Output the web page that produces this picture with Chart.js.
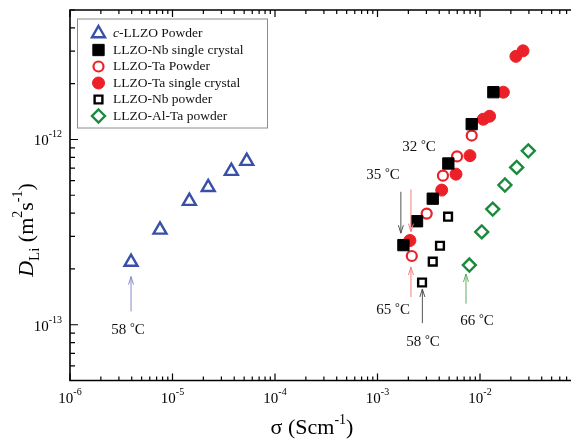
<!DOCTYPE html>
<html>
<head>
<meta charset="utf-8">
<script src="https://cdn.jsdelivr.net/npm/chart.js@4.4.0/dist/chart.umd.min.js"></script>
<style>
  html, body { margin: 0; padding: 0; background: #fff; overflow: hidden; }
  #wrap { width: 600px; height: 439px; }
</style>
</head>
<body>
<div id="wrap"><canvas id="dliChart" width="600" height="439"></canvas></div>
<script>
// sigma in S/cm, D_Li in m^2/s
const cPowderSigma = [3.94e-6, 7.55e-6, 1.46e-5, 2.23e-5, 3.75e-5, 5.30e-5];
const cPowderD     = [2.18e-13, 3.25e-13, 4.65e-13, 5.52e-13, 6.75e-13, 7.64e-13];

const nbCrystalSigma = [1.79e-3, 2.43e-3, 3.46e-3, 4.91e-3, 8.30e-3, 1.35e-2];
const nbCrystalD     = [2.69e-13, 3.62e-13, 4.79e-13, 7.42e-13, 1.21e-12, 1.80e-12];

const taPowderSigma = [2.16e-3, 3.02e-3, 4.35e-3, 5.97e-3, 8.30e-3];
const taPowderD     = [2.35e-13, 3.98e-13, 6.38e-13, 8.10e-13, 1.05e-12];

const taCrystalSigma = [2.07e-3, 4.23e-3, 5.83e-3, 7.98e-3, 1.076e-2, 1.24e-2, 1.69e-2, 2.24e-2, 2.63e-2];
const taCrystalD     = [2.85e-13, 5.33e-13, 6.50e-13, 8.18e-13, 1.286e-12, 1.335e-12, 1.80e-12, 2.81e-12, 3.01e-12];

const nbPowderSigma = [2.72e-3, 3.46e-3, 4.07e-3, 4.88e-3];
const nbPowderD     = [1.69e-13, 2.19e-13, 2.67e-13, 3.83e-13];

const alTaPowderSigma = [7.87e-3, 1.04e-2, 1.33e-2, 1.75e-2, 2.28e-2, 2.96e-2];
const alTaPowderD     = [2.10e-13, 3.17e-13, 4.21e-13, 5.68e-13, 7.07e-13, 8.68e-13];

const seriesNames = ['c-LLZO Powder', 'LLZO-Nb single crystal', 'LLZO-Ta Powder',
                     'LLZO-Ta single crystal', 'LLZO-Nb powder', 'LLZO-Al-Ta powder'];

// decade exponents used for the tick labels
const xTickExps = [-6, -5, -4, -3, -2];
const yTickExps = [-13, -12];

// temperature callouts: arrow at sigma = ax from D = y0 to D = y1, label at (tx, ty)
const calloutTemps = ['58', '35', '32', '65', '58', '66'];
const callouts = [
  { ax: 3.94e-6, y0: 1.18e-13, y1: 1.82e-13, tx: 3.68e-6, ty: 9.4e-14,  color: '#8a8ad0' },
  { ax: 1.69e-3, y0: 5.22e-13, y1: 3.12e-13, tx: 1.13e-3, ty: 6.42e-13, color: '#555555' },
  { ax: 2.12e-3, y0: 5.38e-13, y1: 3.18e-13, tx: 2.54e-3, ty: 9.09e-13, color: '#f08080' },
  { ax: 2.12e-3, y0: 1.41e-13, y1: 2.05e-13, tx: 1.42e-3, ty: 1.20e-13, color: '#f08080' },
  { ax: 2.74e-3, y0: 1.02e-13, y1: 1.56e-13, tx: 2.78e-3, ty: 8.1e-14,  color: '#555555' },
  { ax: 7.30e-3, y0: 1.30e-13, y1: 1.88e-13, tx: 9.35e-3, ty: 1.05e-13, color: '#60b060' }
];

const BLUE = '#3850a8', RED = '#ec2028', GREEN = '#1a8a3c';
const SERIF = '"Liberation Serif", "DejaVu Serif", serif';

const markerStyles = [
  { pointStyle: 'triangle', radius: 7.5, borderWidth: 2.4, borderColor: BLUE, fill: null },
  { pointStyle: 'rect', radius: 8, borderWidth: 1, borderColor: '#000', fill: '#000' },
  { pointStyle: 'circle', radius: 5, borderWidth: 2.2, borderColor: RED, fill: null },
  { pointStyle: 'circle', radius: 6, borderWidth: 1, borderColor: RED, fill: RED },
  { pointStyle: 'rect', radius: 5.5, borderWidth: 2.4, borderColor: '#000', fill: null },
  { pointStyle: 'rectRot', radius: 6.5, borderWidth: 2.4, borderColor: GREEN, fill: null }
];

function toPoints(xs, ys) {
  return xs.map((x, i) => ({ x: x, y: ys[i] }));
}

const seriesData = [
  toPoints(cPowderSigma, cPowderD),
  toPoints(nbCrystalSigma, nbCrystalD),
  toPoints(taPowderSigma, taPowderD),
  toPoints(taCrystalSigma, taCrystalD),
  toPoints(nbPowderSigma, nbPowderD),
  toPoints(alTaPowderSigma, alTaPowderD)
];

// draw a row of text pieces, each {t, font, dy}
function drawRuns(ctx, runs, x, y, align) {
  let total = 0;
  runs.forEach(r => { ctx.font = r.font; r.w = ctx.measureText(r.t).width; total += r.w; });
  let cx = align === 'center' ? x - total / 2 : (align === 'right' ? x - total : x);
  ctx.textAlign = 'left';
  runs.forEach(r => {
    ctx.font = r.font;
    ctx.fillText(r.t, cx, y + (r.dy || 0));
    cx += r.w;
  });
}

function drawMarker(ctx, m, x, y) {
  const r = m.radius;
  ctx.beginPath();
  if (m.pointStyle === 'triangle') {
    ctx.moveTo(x, y - r);
    ctx.lineTo(x + r * 0.866, y + r / 2);
    ctx.lineTo(x - r * 0.866, y + r / 2);
    ctx.closePath();
  } else if (m.pointStyle === 'rect') {
    const s = r * Math.SQRT1_2;
    ctx.rect(x - s, y - s, 2 * s, 2 * s);
  } else if (m.pointStyle === 'rectRot') {
    ctx.moveTo(x, y - r); ctx.lineTo(x + r, y); ctx.lineTo(x, y + r); ctx.lineTo(x - r, y);
    ctx.closePath();
  } else {
    ctx.arc(x, y, r, 0, Math.PI * 2);
  }
  if (m.fill) { ctx.fillStyle = m.fill; ctx.fill(); }
  ctx.lineWidth = m.borderWidth;
  ctx.strokeStyle = m.borderColor;
  ctx.stroke();
}

const framePlugin = {
  id: 'frame',
  afterDraw(chart) {
    const ctx = chart.ctx;
    const a = chart.chartArea;
    const xs = chart.scales.x, ys = chart.scales.y;
    ctx.save();
    ctx.strokeStyle = '#000';
    ctx.lineWidth = 1.6;
    ctx.beginPath();
    ctx.moveTo(a.right, a.top); ctx.lineTo(a.left, a.top);
    ctx.lineTo(a.left, a.bottom); ctx.lineTo(a.right, a.bottom);
    ctx.stroke();

    // inward ticks on bottom, top and left
    ctx.lineWidth = 1.2;
    ctx.beginPath();
    for (let e = -6; e <= -1; e++) {
      for (let k = 1; k <= 9; k++) {
        const v = k * Math.pow(10, e);
        if (v < 1e-6 * 0.999 || v > 1e-1 * 1.001) continue;
        const px = xs.getPixelForValue(v);
        const len = k === 1 ? 7 : 4;
        ctx.moveTo(px, a.bottom); ctx.lineTo(px, a.bottom - len);
        ctx.moveTo(px, a.top); ctx.lineTo(px, a.top + len);
      }
    }
    for (let e = -14; e <= -12; e++) {
      for (let k = 1; k <= 9; k++) {
        const v = k * Math.pow(10, e);
        if (v < 5e-14 * 0.999 || v > 5e-12 * 1.001) continue;
        const py = ys.getPixelForValue(v);
        const len = k === 1 ? 8 : 5;
        ctx.moveTo(a.left, py); ctx.lineTo(a.left + len, py);
      }
    }
    ctx.stroke();

    // tick labels
    ctx.fillStyle = '#000';
    ctx.textBaseline = 'alphabetic';
    xTickExps.forEach(e => {
      const px = xs.getPixelForValue(Math.pow(10, e));
      drawRuns(ctx, [
        { t: '10', font: '15px ' + SERIF },
        { t: String(e), font: '10px ' + SERIF, dy: -8 }
      ], px, a.bottom + 22, 'center');
    });
    yTickExps.forEach(e => {
      const py = ys.getPixelForValue(Math.pow(10, e));
      drawRuns(ctx, [
        { t: '10', font: '15px ' + SERIF },
        { t: String(e), font: '10px ' + SERIF, dy: -8 }
      ], a.left - 8, py + 6, 'right');
    });

    // axis titles
    drawRuns(ctx, [
      { t: '\u03C3 (Scm', font: '22px ' + SERIF },
      { t: '-1', font: '14px ' + SERIF, dy: -10 },
      { t: ')', font: '22px ' + SERIF }
    ], 312, 434, 'center');

    ctx.save();
    ctx.translate(33, 230);
    ctx.rotate(-Math.PI / 2);
    drawRuns(ctx, [
      { t: 'D', font: 'italic 22px ' + SERIF },
      { t: 'Li', font: '15px ' + SERIF, dy: 6 },
      { t: ' (m', font: '22px ' + SERIF },
      { t: '2', font: '14px ' + SERIF, dy: -11 },
      { t: 's', font: '22px ' + SERIF },
      { t: '-1', font: '14px ' + SERIF, dy: -11 },
      { t: ')', font: '22px ' + SERIF }
    ], 0, 0, 'center');
    ctx.restore();

    // temperature callouts
    ctx.lineWidth = 1;
    callouts.forEach((c, i) => {
      const x = xs.getPixelForValue(c.ax);
      const y0 = ys.getPixelForValue(c.y0);
      const y1 = ys.getPixelForValue(c.y1);
      const dir = y1 > y0 ? 1 : -1;
      ctx.strokeStyle = c.color;
      ctx.beginPath();
      ctx.moveTo(x, y0); ctx.lineTo(x, y1);
      ctx.moveTo(x - 2.5, y1 - dir * 8); ctx.lineTo(x, y1); ctx.lineTo(x + 2.5, y1 - dir * 8);
      ctx.stroke();
      ctx.fillStyle = '#111';
      ctx.textBaseline = 'middle';
      drawRuns(ctx, [
        { t: calloutTemps[i] + ' ', font: '15px ' + SERIF },
        { t: '\u00B0', font: '12px ' + SERIF, dy: -2 },
        { t: 'C', font: '15px ' + SERIF }
      ], xs.getPixelForValue(c.tx), ys.getPixelForValue(c.ty), 'center');
    });

    // legend box
    const lx = 77.5, ly = 19, lw = 190, lh = 109;
    ctx.fillStyle = '#fff';
    ctx.fillRect(lx, ly, lw, lh);
    ctx.strokeStyle = '#8c8c8c';
    ctx.lineWidth = 1;
    ctx.strokeRect(lx, ly, lw, lh);
    ctx.textBaseline = 'middle';
    seriesNames.forEach((name, i) => {
      const ry = 33.5 + i * 16.5;
      drawMarker(ctx, markerStyles[i], 98.5, ry);
      ctx.fillStyle = '#111';
      if (i === 0) {
        drawRuns(ctx, [
          { t: 'c', font: 'italic 13.5px ' + SERIF },
          { t: name.slice(1), font: '13.5px ' + SERIF }
        ], 113, ry, 'left');
      } else {
        drawRuns(ctx, [{ t: name, font: '13.5px ' + SERIF }], 113, ry, 'left');
      }
    });
    ctx.restore();
  }
};

const ctx = document.getElementById('dliChart');
new Chart(ctx, {
  type: 'scatter',
  data: {
    datasets: seriesData.map((pts, i) => ({
      label: seriesNames[i],
      data: pts,
      showLine: false,
      pointStyle: markerStyles[i].pointStyle,
      pointRadius: markerStyles[i].radius,
      pointBorderWidth: markerStyles[i].borderWidth,
      borderColor: markerStyles[i].borderColor,
      backgroundColor: markerStyles[i].fill || 'rgba(0,0,0,0)',
      pointBackgroundColor: markerStyles[i].fill || 'rgba(0,0,0,0)'
    }))
  },
  options: {
    responsive: false,
    animation: false,
    events: [],
    layout: { padding: { left: 70, top: 10, right: 17.5, bottom: 58.5 } },
    plugins: { legend: { display: false }, tooltip: { enabled: false } },
    scales: {
      x: { type: 'logarithmic', min: 1e-6, max: 1e-1, bounds: 'data', display: false },
      y: { type: 'logarithmic', min: 5e-14, max: 5e-12, bounds: 'data', display: false }
    }
  },
  plugins: [framePlugin]
});
</script>
</body>
</html>
